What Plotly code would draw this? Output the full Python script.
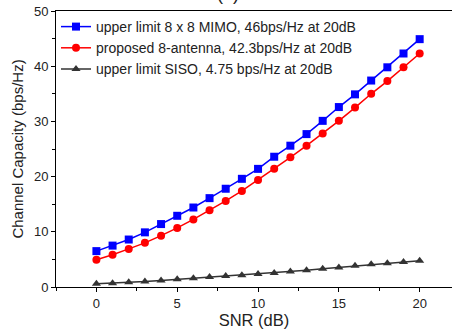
import plotly.graph_objects as go

snr = list(range(0, 21))
mimo = [6.5, 7.5, 8.6, 9.9, 11.4, 12.9, 14.4, 16.1, 17.8, 19.6, 21.4,
        23.6, 25.6, 27.7, 30.1, 32.6, 34.9, 37.4, 39.8, 42.3, 44.9]
proposed = [4.95, 5.85, 6.9, 8.0, 9.3, 10.7, 12.25, 13.9, 15.6, 17.4, 19.4,
            21.4, 23.5, 25.6, 27.8, 30.1, 32.5, 35.0, 37.3, 39.8, 42.3]
siso = [0.6, 0.7, 0.85, 1.0, 1.2, 1.4, 1.6, 1.8, 2.0, 2.15, 2.35,
        2.55, 2.8, 3.05, 3.3, 3.55, 3.85, 4.1, 4.3, 4.55, 4.75]
names = ["upper limit 8 x 8 MIMO, 46bps/Hz at 20dB",
         "proposed 8-antenna, 42.3bps/Hz at 20dB",
         "upper limit SISO, 4.75 bps/Hz at 20dB"]
colors = ["#0000ff", "#ff0000", "#333333"]
symbols = ["square", "circle", "triangle-up"]

fig = go.Figure()
for ys, nm, c, s in zip([mimo, proposed, siso], names, colors, symbols):
    fig.add_trace(go.Scatter(x=snr, y=ys, name=nm, mode="lines+markers",
                             line=dict(color=c, width=1.5),
                             marker=dict(symbol=s, size=8, color=c)))

font = "Liberation Sans, Arial, sans-serif"
fig.update_layout(
    width=452, height=329,
    margin=dict(l=56, r=0, t=11, b=42),
    plot_bgcolor="white", paper_bgcolor="white",
    font=dict(family=font, size=13, color="#222222"),
    showlegend=True,
    legend=dict(x=0.0, y=1.0, xanchor="left", yanchor="top",
                bgcolor="rgba(0,0,0,0)", font=dict(size=14, color="#222222"),
                tracegroupgap=0, itemwidth=30),
)
fig.update_xaxes(range=[-2.5, 22], dtick=5, tick0=0, showline=True, linecolor="black",
                 linewidth=1, mirror=True, ticks="outside", ticklen=4, tickcolor="black",
                 showgrid=False, zeroline=False,
                 minor=dict(dtick=2.5, tick0=0, ticks="outside", ticklen=3, tickcolor="black"),
                 title=dict(text="SNR (dB)", font=dict(size=16.5), standoff=3),
                 tickfont=dict(size=13))
fig.update_yaxes(range=[0, 50], dtick=10, showline=True, linecolor="black",
                 linewidth=1, mirror=True, ticks="outside", ticklen=4, tickcolor="black",
                 showgrid=False, zeroline=False,
                 minor=dict(dtick=5, ticks="outside", ticklen=3, tickcolor="black"),
                 title=dict(text="Channel Capacity (bps/Hz)", font=dict(size=15), standoff=6),
                 tickfont=dict(size=13))
fig.add_annotation(text="(a)", xref="paper", yref="paper", x=0.435, y=1.06,
                   xanchor="center", yanchor="middle", showarrow=False,
                   font=dict(size=18, color="#222222"))
fig.write_html("out.html")
